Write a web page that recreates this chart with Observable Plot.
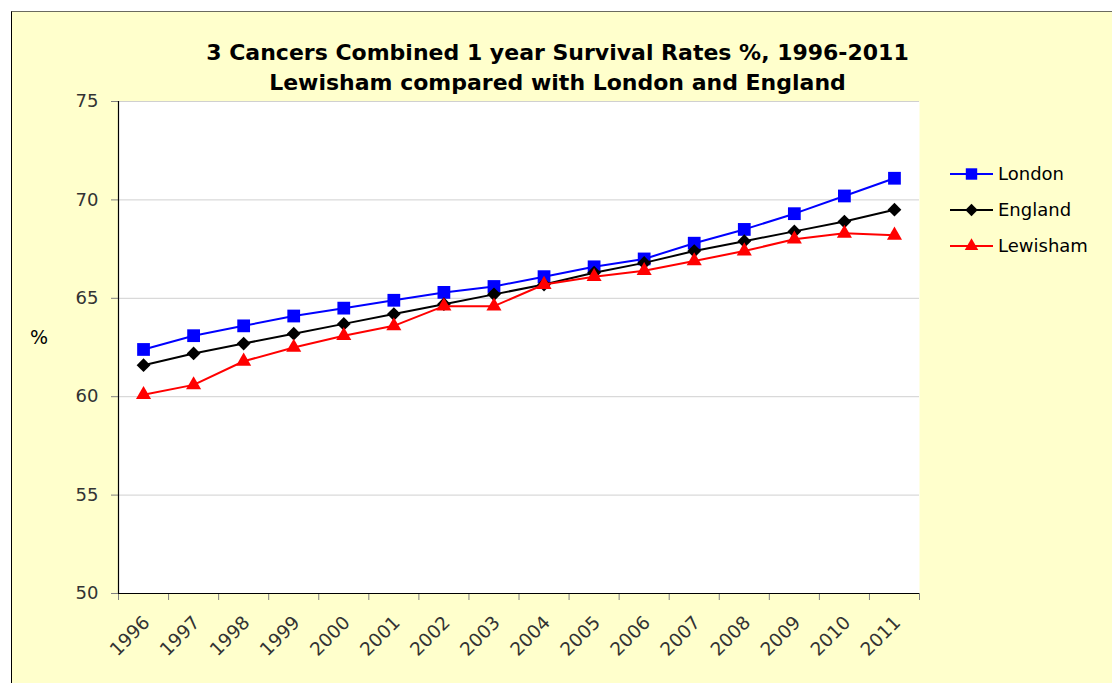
<!DOCTYPE html>
<html><head><meta charset="utf-8">
<script src="https://cdn.jsdelivr.net/npm/d3@7"></script>
<script src="https://cdn.jsdelivr.net/npm/@observablehq/plot@0.6"></script>
<style>
body{margin:0;background:#fff;font-family:"DejaVu Sans",sans-serif;width:1112px;height:683px;overflow:hidden;position:relative;}
#bg{position:absolute;left:11px;top:11px;width:1101px;height:672px;background:#FFFFCC;border-top:1px solid #6b6b5f;border-left:1px solid #000;box-sizing:border-box;}
#plot{position:absolute;left:0;top:0;}
#title{position:absolute;left:0;width:1115px;top:38px;text-align:center;font-weight:bold;font-size:22px;line-height:30px;color:#000;}
#ylab{position:absolute;left:30px;top:326px;font-size:19px;color:#000;}
#legend{position:absolute;left:950px;top:160px;}
</style></head><body>
<div id="bg"></div>
<div id="plot"></div>
<div id="title">3 Cancers Combined 1 year Survival Rates %, 1996-2011<br>Lewisham compared with London and England</div>
<div id="ylab">%</div>
<div id="legend"></div>
<script>
const years = [1996,1997,1998,1999,2000,2001,2002,2003,2004,2005,2006,2007,2008,2009,2010,2011];
const london   = [62.4,63.1,63.6,64.1,64.5,64.9,65.3,65.6,66.1,66.6,67.0,67.8,68.5,69.3,70.2,71.1];
const england  = [61.6,62.2,62.7,63.2,63.7,64.2,64.7,65.2,65.7,66.3,66.8,67.4,67.9,68.4,68.9,69.5];
const lewisham = [60.1,60.6,61.8,62.5,63.1,63.6,64.6,64.6,65.7,66.1,66.4,66.9,67.4,68.0,68.3,68.2];
const seriesNames = ["London","England","Lewisham"];
const seriesColors = ["#0000FF","#000000","#FF0000"];
const seriesSymbols = ["square","diamond2","triangle"];
const seriesR = [7.2,6.2,5.6];
const yTicks = [50,55,60,65,70,75];
const xBoundaries = d3.range(1995.5, 2012, 1);

const seriesValues = [london, england, lewisham];
const data = [];
seriesNames.forEach((name, k) => years.forEach((yr, i) => data.push({year: yr, value: seriesValues[k][i], series: name})));

const marks = [
  Plot.frame({fill: "white", stroke: null}),
  Plot.gridY(yTicks.slice(1), {stroke: "#d0d0d0", strokeOpacity: 1}),
  Plot.axisX(xBoundaries, {tickSize: 7, tickFormat: () => "", stroke: "#808080", label: null}),
  Plot.axisX(years, {tickSize: 0, tickRotate: -45, tickPadding: 26, dx: 3, tickFormat: d => String(d), fill: "#333", fontSize: 18.5, label: null}),
  Plot.axisY(yTicks, {tickSize: 7, tickPadding: 13, stroke: "#808080", fill: "#333", fontSize: 18, label: null}),
  Plot.ruleX([1995.5], {stroke: "#000", strokeWidth: 1.2}),
  Plot.ruleY([50], {stroke: "#000", strokeWidth: 1.2})
];
seriesNames.forEach((name, k) => {
  const d = data.filter(r => r.series === name);
  marks.push(Plot.line(d, {x: "year", y: "value", stroke: seriesColors[k], strokeWidth: 2}));
  marks.push(Plot.dot(d, {x: "year", y: "value", fill: seriesColors[k], stroke: "none", symbol: seriesSymbols[k], r: seriesR[k]}));
});

const chart = Plot.plot({
  width: 1112, height: 683,
  marginLeft: 118, marginRight: 193, marginTop: 101, marginBottom: 90,
  style: {background: "transparent", fontFamily: "DejaVu Sans", fontSize: "18px", color: "#333", overflow: "visible"},
  x: {type: "linear", domain: [1995.5, 2011.5], axis: null, label: null},
  y: {domain: [50, 75], axis: null, label: null},
  marks
});
document.getElementById("plot").appendChild(chart);

// Legend
const symMap = {square: d3.symbolSquare, diamond2: d3.symbolDiamond2, triangle: d3.symbolTriangle};
const lg = d3.select("#legend").append("svg").attr("width", 160).attr("height", 110);
seriesNames.forEach((name, k) => {
  const cy = 14 + k * 36;
  const g = lg.append("g");
  g.append("line").attr("x1", 0).attr("x2", 43).attr("y1", cy).attr("y2", cy).attr("stroke", seriesColors[k]).attr("stroke-width", 2);
  g.append("path").attr("d", d3.symbol(symMap[seriesSymbols[k]], Math.PI * seriesR[k] * seriesR[k] * 0.8)()).attr("transform", `translate(21.5,${cy})`).attr("fill", seriesColors[k]);
  g.append("text").attr("x", 48).attr("y", cy).attr("dy", "0.35em").attr("font-size", 18).attr("font-family", "DejaVu Sans").attr("fill", "#000").text(name);
});
</script>
</body></html>
